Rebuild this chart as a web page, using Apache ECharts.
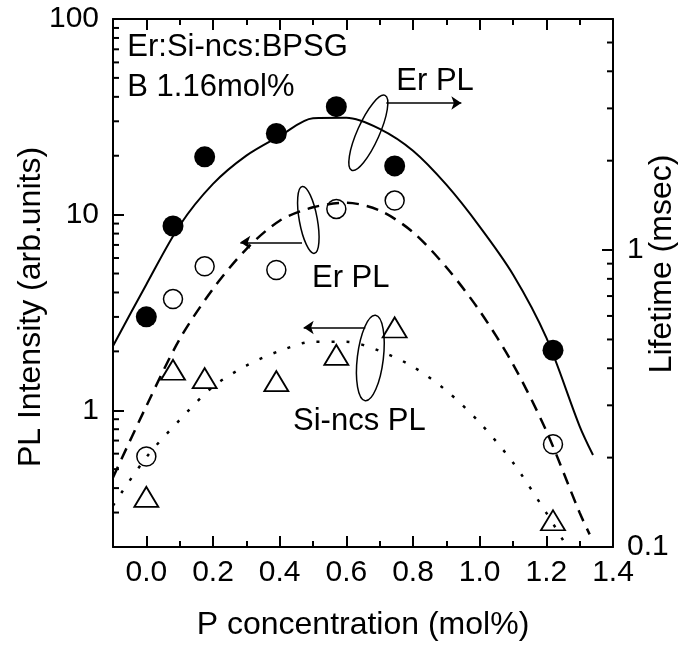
<!doctype html>
<html>
<head>
<meta charset="utf-8">
<title></title>
<script src="https://cdn.jsdelivr.net/npm/echarts@6/dist/echarts.min.js"></script>
</head>
<body style="margin:0;background:#fff">
<div id="chart" style="width:681px;height:651px;"></div>
<script>
// measured points (same P concentrations for all three sets)
var pConc = [0, 0.08, 0.175, 0.39, 0.57, 0.745, 1.22];
var erLifetime = [0.596, 1.205, 2.06, 2.47, 3.04, 1.92, 0.46];   // msec, right axis
var erPL = [0.58, 3.70, 5.44, 5.21, 10.7, 11.8, 0.67];           // arb. units
var siPL = [0.361, 1.61, 1.46, 1.41, 1.92, 2.65, 0.274];         // arb. units

// fitted curves
var lifetimeFitX = [-0.1, 0, 0.1, 0.2, 0.3, 0.4, 0.5, 0.6, 0.7, 0.8, 0.9, 1.0, 1.1, 1.2, 1.3, 1.34];
var lifetimeFit = [0.475, 0.766, 1.21, 1.67, 2.08, 2.42, 2.78, 2.79, 2.56, 2.16, 1.66, 1.20, 0.828, 0.507, 0.255, 0.204];
var erFitX = [-0.1, 0, 0.1, 0.2, 0.3, 0.4, 0.5, 0.6, 0.7, 0.8, 0.9, 1.0, 1.1, 1.2, 1.3, 1.33];
var erFit = [0.454, 1.05, 2.31, 4.17, 6.67, 9.31, 10.9, 11.5, 10.5, 8.13, 5.38, 3.22, 1.72, 0.784, 0.299, 0.232];
var siFitX = [-0.1, 0, 0.1, 0.2, 0.3, 0.4, 0.5, 0.6, 0.7, 0.8, 0.9, 1.0, 1.1, 1.2, 1.25];
var siFit = [0.326, 0.575, 0.892, 1.32, 1.69, 2.01, 2.24, 2.24, 2.01, 1.67, 1.26, 0.865, 0.54, 0.299, 0.217];

// annotations, in data units of the left axis
var arrows = [[0.72, 0.945, 37.2], [0.467, 0.282, 7.22], [0.657, 0.472, 2.65]];
var loops = [[0.666, 26.2, 11, 41, -0.42], [0.486, 9.4, 9, 34, 0.18], [0.672, 1.85, 13, 43, -0.12]];
var notes = [['Er:Si-ncs:BPSG', -0.057, 71.3], ['B 1.16mol%', -0.057, 44.7], ['Er PL', 0.75, 48.1],
             ['Er PL', 0.497, 4.74], ['Si-ncs PL', 0.44, 0.873]];

var font = 'Liberation Sans';
function zip(xs, ys) { return xs.map(function (x, i) { return [x, ys[i]]; }); }
function minorValues(lo, hi) {
  var out = [];
  [0.1, 1, 10].forEach(function (d) {
    for (var k = 2; k <= 9; k++) { var v = +(k * d).toFixed(2); if (v > lo && v < hi) out.push(v); }
  });
  return out;
}
function minorTicks(yIndex, xEdge, dir, values) {
  return {
    type: 'custom', yAxisIndex: yIndex, silent: true, clip: false, z: 5,
    data: values.map(function (v) { return [xEdge, v]; }),
    renderItem: function (params, api) {
      var p = api.coord([api.value(0), api.value(1)]);
      return { type: 'line', shape: { x1: p[0], y1: p[1], x2: p[0] + dir * 6, y2: p[1] },
               style: { stroke: '#000', lineWidth: 2 } };
    }
  };
}

var axLine = { show: true, onZero: false, lineStyle: { color: '#000', width: 2 } };
var axTick = { show: true, inside: true, length: 11, lineStyle: { color: '#000', width: 2 } };
var lbl = { color: '#000', fontFamily: font, fontSize: 30 };
var nameStyle = { color: '#000', fontFamily: font, fontSize: 32 };

var xBase = {
  type: 'value', min: -0.1, max: 1.4, splitNumber: 8,
  axisLine: axLine, axisTick: axTick,
  minorTick: { show: true, splitNumber: 2, length: 6, lineStyle: { color: '#000', width: 2 } },
  splitLine: { show: false }, minorSplitLine: { show: false }
};

var chart = echarts.init(document.getElementById('chart'));
var option = {
  animation: false,
  backgroundColor: '#fff',
  grid: { left: 113, right: 68, top: 19, bottom: 104, outerBoundsMode: 'none' },
  xAxis: [
    Object.assign({}, xBase, {
      position: 'bottom',
      name: 'P concentration (mol%)', nameLocation: 'middle', nameGap: 62, nameMoveOverlap: false,
      nameTextStyle: nameStyle,
      axisLabel: Object.assign({ margin: 11, showMinLabel: false, showMaxLabel: true,
        formatter: function (v) { return v.toFixed(1); } }, lbl)
    }),
    Object.assign({}, xBase, { position: 'top', axisLabel: { show: false } })
  ],
  yAxis: [
    {
      type: 'log', logBase: 10, min: 0.2, max: 100, position: 'left',
      name: 'PL Intensity (arb.units)', nameLocation: 'middle', nameGap: 66, nameRotate: 90,
      nameMoveOverlap: false,
      nameTextStyle: Object.assign({ padding: [0, 48, 0, 0] }, nameStyle),
      axisLine: axLine, axisTick: axTick, splitLine: { show: false },
      axisLabel: Object.assign({ margin: 14, showMinLabel: false, showMaxLabel: true }, lbl)
    },
    {
      type: 'log', logBase: 10, min: 0.1, max: 6, position: 'right',
      name: 'Lifetime (msec)', nameLocation: 'middle', nameGap: 33, nameRotate: 90,
      nameMoveOverlap: false,
      nameTextStyle: Object.assign({ padding: [0, 0, 0, 38] }, nameStyle),
      axisLine: axLine, axisTick: axTick, splitLine: { show: false },
      axisLabel: Object.assign({ margin: 14, showMinLabel: true, showMaxLabel: false }, lbl)
    }
  ],
  series: [
    { type: 'line', yAxisIndex: 1, data: zip(lifetimeFitX, lifetimeFit), smooth: 0.3, symbol: 'none',
      lineStyle: { color: '#000', width: 2 } },
    { type: 'line', yAxisIndex: 0, data: zip(erFitX, erFit), smooth: 0.3, symbol: 'none',
      lineStyle: { color: '#000', width: 2.5, type: [12, 8] } },
    { type: 'line', yAxisIndex: 0, data: zip(siFitX, siFit), smooth: 0.3, symbol: 'none',
      lineStyle: { color: '#000', width: 2.5, type: [3, 12] } },
    { type: 'scatter', yAxisIndex: 1, data: zip(pConc, erLifetime), symbol: 'circle', symbolSize: 21,
      itemStyle: { color: '#000', opacity: 1 } },
    { type: 'scatter', yAxisIndex: 0, data: zip(pConc, erPL), symbol: 'circle', symbolSize: 19,
      itemStyle: { color: 'transparent', borderColor: '#000', borderWidth: 1.5, opacity: 1 } },
    { type: 'scatter', yAxisIndex: 0, data: zip(pConc, siPL), symbol: 'triangle', symbolSize: [24, 20],
      itemStyle: { color: 'transparent', borderColor: '#000', borderWidth: 1.8, opacity: 1 } },
    { type: 'lines', coordinateSystem: 'cartesian2d', yAxisIndex: 0, symbol: ['none', 'arrow'], symbolSize: 10,
      lineStyle: { color: '#000', width: 1.5, opacity: 1 }, silent: true,
      data: arrows.map(function (a) { return { coords: [[a[0], a[2]], [a[1], a[2]]] }; }) },
    minorTicks(0, -0.1, 1, minorValues(0.2, 100)),
    minorTicks(1, 1.4, -1, minorValues(0.1, 6))
  ]
};
chart.setOption(option);

var graphics = [];
loops.forEach(function (l) {
  var p = chart.convertToPixel({ xAxisIndex: 0, yAxisIndex: 0 }, [l[0], l[1]]);
  graphics.push({ type: 'ellipse', x: p[0], y: p[1], rotation: l[4], silent: true,
    shape: { cx: 0, cy: 0, rx: l[2], ry: l[3] }, style: { fill: 'none', stroke: '#000', lineWidth: 1.5 } });
});
notes.forEach(function (n) {
  var p = chart.convertToPixel({ xAxisIndex: 0, yAxisIndex: 0 }, [n[1], n[2]]);
  graphics.push({ type: 'text', x: p[0], y: p[1], silent: true,
    style: { text: n[0], fill: '#000', fontFamily: font, fontSize: 31, align: 'left', verticalAlign: 'middle' } });
});
chart.setOption({ graphic: graphics });
</script>
</body>
</html>
